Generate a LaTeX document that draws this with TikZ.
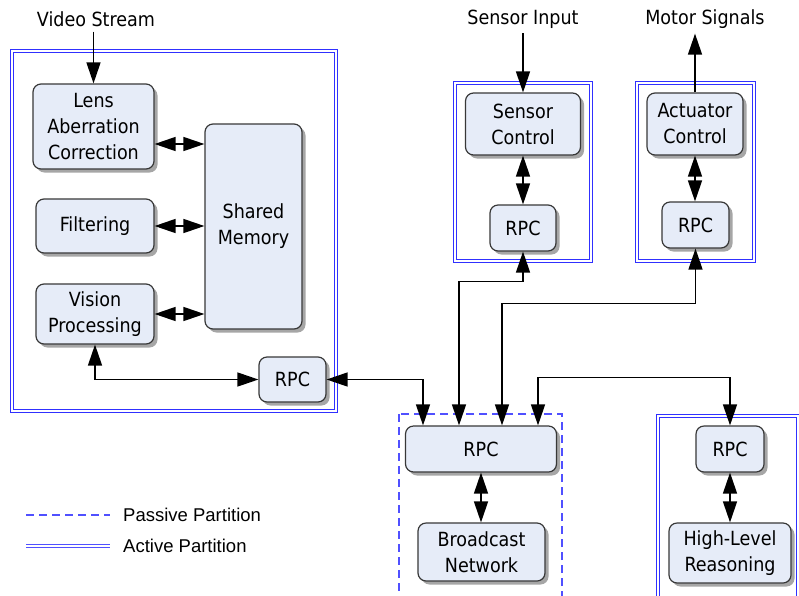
\documentclass[tikz,border=0pt]{standalone}
\usepackage{fontspec}
\setmainfont{DejaVu Sans Condensed}
\newfontfamily\legendfont{Liberation Sans}
\usetikzlibrary{arrows.meta,shadows,calc}
\definecolor{boxfill}{HTML}{E6ECF8}
\definecolor{boxline}{HTML}{383838}
\definecolor{partblue}{HTML}{3030FF}
\definecolor{legblue}{HTML}{5050FF}
\begin{document}
\begin{tikzpicture}[x=1pt,y=-1pt,
  font=\fontsize{19.5}{26}\selectfont,
  blk/.style={draw=boxline, line width=1.2pt, fill=boxfill, rounded corners=8pt,
    align=center, inner sep=0pt,
    drop shadow={shadow xshift=3.5pt, shadow yshift=-3.5pt, fill=black!50, opacity=0.7}},
  lbl/.style={inner sep=1pt},
  arr/.style={-{Triangle[length=21pt,width=14pt]}, line width=1.4pt, black},
  darr/.style={{Triangle[length=21pt,width=14pt]}-{Triangle[length=21pt,width=14pt]}, line width=1.4pt, black},
  active/.style={draw=partblue, line width=1pt, double=white, double distance=2.2pt},
  passive/.style={draw=legblue, line width=1.3pt, dash pattern=on 8pt off 5pt},
]
\useasboundingbox (0,0) rectangle (799,595);
\clip (0,0) rectangle (799,595);

% partitions
\draw[active] (12,51) rectangle (336,411);
\draw[active] (455,83) rectangle (591,261);
\draw[active] (637,83) rectangle (754,261);
\draw[active] (658,416) rectangle (798,620);
\draw[passive] (399,414) rectangle (562,620);

% left partition
\node[blk, minimum width=121pt, minimum height=85pt] (lac) at (93.5,126.5) {Lens\\Aberration\\Correction};
\node[blk, minimum width=118pt, minimum height=54pt] (filt) at (95,226) {Filtering};
\node[blk, minimum width=118pt, minimum height=60pt] (vp) at (95,314) {Vision\\Processing};
\node[blk, minimum width=97pt, minimum height=205pt] (sm) at (253.5,226.5) {Shared\\Memory};
\node[blk, minimum width=67pt, minimum height=45pt] (rpcl) at (292.5,379.5) {RPC};

% sensor / actuator
\node[blk, minimum width=115pt, minimum height=62pt] (sc) at (523,124) {Sensor\\Control};
\node[blk, minimum width=66pt, minimum height=46pt] (rpcs) at (523,228) {RPC};
\node[blk, minimum width=96pt, minimum height=62pt] (ac) at (695,124) {Actuator\\Control};
\node[blk, minimum width=67pt, minimum height=46pt] (rpca) at (695.5,225) {RPC};

% central & high level
\node[blk, minimum width=151pt, minimum height=46pt] (rpcc) at (481,449) {RPC};
\node[blk, minimum width=127pt, minimum height=58pt] (bn) at (481.5,552) {Broadcast\\Network};
\node[blk, minimum width=68pt, minimum height=46pt] (rpch) at (730,449) {RPC};
\node[blk, minimum width=122pt, minimum height=60pt] (hlr) at (730,553) {High-Level\\Reasoning};

% external labels
\node[lbl] (vs) at (96,19) {Video Stream};
\node[lbl] (si) at (523,19) {Sensor Input};
\node[lbl] (ms) at (705,19) {Motor Signals};

% connectors
\draw[arr] ([yshift=-4pt]vs.south -| lac.north) -- (lac.north);
\draw[darr] ([yshift=-17.5pt]lac.east) -- ([yshift=-17.5pt]lac.east -| sm.west);
\draw[darr] (filt.east) -- (filt.east -| sm.west);
\draw[darr] (vp.east) -- (vp.east -| sm.west);
\draw[darr] (vp.south) |- (rpcl.west);

\draw[arr] ([yshift=-4pt]si.south -| sc.north) -- (sc.north);
\draw[darr] (sc.south) -- (rpcs.north);
\draw[arr] (ac.north) -- ([yshift=-4pt]ms.south -| ac.north);
\draw[darr] (ac.south) -- (rpca.north -| ac.south);

\draw[darr] (rpcl.east) -| ([xshift=-58pt]rpcc.north);
\draw[darr] (rpcs.south) -- ++(0,30) -| ([xshift=-22pt]rpcc.north);
\draw[darr] (rpca.south) -- ++(0,55) -| ([xshift=21pt]rpcc.north);
\draw[darr] ([xshift=57pt]rpcc.north) -- ++(0,-48) -| (rpch.north);
\draw[darr] (rpcc.south) -- (bn.north -| rpcc.south);
\draw[darr] (rpch.south) -- (hlr.north);

% legend
\coordinate (lp1) at (26,515);
\coordinate (lp2) at (110,515);
\coordinate (la1) at (26,546);
\coordinate (la2) at (110,546);
\draw[passive] (lp1) -- (lp2);
\draw[draw=legblue, line width=1pt, double=white, double distance=2.2pt] (la1) -- (la2);
\node[lbl, anchor=west, font=\legendfont\fontsize{18.5}{22}\selectfont] (lpt) at (122,515) {Passive Partition};
\node[lbl, anchor=west, font=\legendfont\fontsize{18.5}{22}\selectfont] (lat) at (122,546) {Active Partition};
\end{tikzpicture}
\end{document}
